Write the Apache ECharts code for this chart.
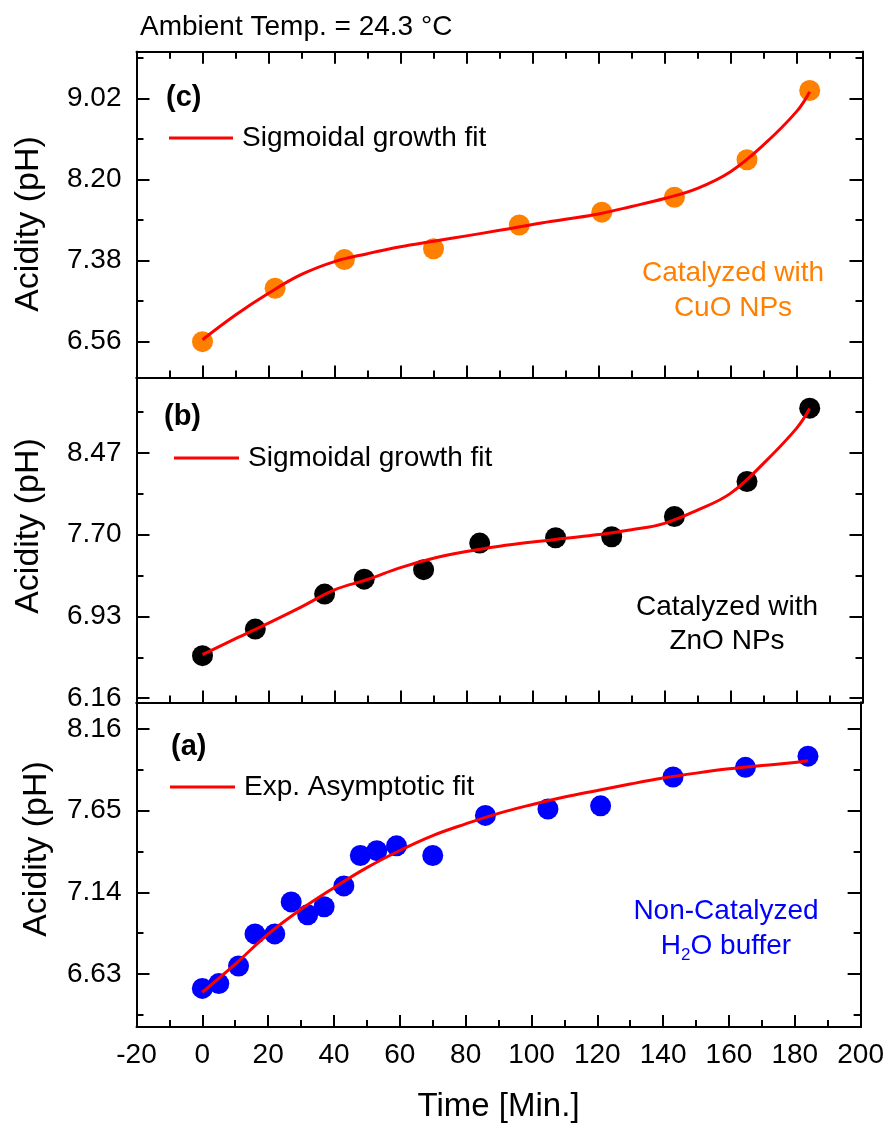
<!DOCTYPE html>
<html>
<head>
<meta charset="utf-8">
<title>Acidity vs time</title>
<script src="https://cdn.jsdelivr.net/npm/echarts@6/dist/echarts.min.js"></script>
<style>
  html, body { margin: 0; padding: 0; background: #fff; }
  #chart { width: 887px; height: 1124px; }
</style>
</head>
<body>
<div id="chart"></div>
<script>
  // panel (c) - CuO
  var timeC = [0, 22, 43, 70, 96, 121, 143, 165, 184];
  var phC = [6.56, 7.10, 7.39, 7.50, 7.74, 7.87, 8.02, 8.40, 9.10];

  // panel (b) - ZnO
  var timeB = [0, 16, 37, 49, 67, 84, 107, 124, 143, 165, 184];
  var phB = [6.56, 6.81, 7.14, 7.28, 7.37, 7.62, 7.67, 7.68, 7.87, 8.20, 8.89];

  // panel (a) - no catalyst
  var timeA = [0, 5, 11, 16, 22, 27, 32, 37, 43, 48, 53, 59, 70, 86, 105, 121, 143, 165, 184];
  var phA = [6.54, 6.57, 6.68, 6.88, 6.88, 7.08, 7.00, 7.05, 7.18, 7.37, 7.40, 7.43, 7.37, 7.62, 7.66, 7.68, 7.86, 7.92, 7.99];

  // fit curves, every 10 min
  var fitTime = [0, 10, 20, 30, 40, 50, 60, 70, 80, 90, 100, 110, 120, 130, 140, 150, 160, 170, 180, 184];
  var fitC = [6.58, 6.83, 7.05, 7.24, 7.37, 7.45, 7.52, 7.575, 7.63, 7.686, 7.745, 7.798, 7.852, 7.927, 8.008, 8.111, 8.279, 8.549, 8.886, 9.088];
  var fitB = [6.57, 6.72, 6.867, 7.02, 7.18, 7.277, 7.389, 7.477, 7.54, 7.59, 7.63, 7.665, 7.70, 7.745, 7.806, 7.931, 8.088, 8.37, 8.70, 8.887];
  var fitA = [6.516, 6.692, 6.879, 7.034, 7.169, 7.294, 7.401, 7.494, 7.567, 7.633, 7.687, 7.735, 7.776, 7.816, 7.853, 7.884, 7.911, 7.932, 7.95, 7.961];

  // tick labels
  var ticksC = [6.56, 7.38, 8.20, 9.02];
  var minorC = [6.97, 7.79, 8.61, 9.43];
  var ticksB = [6.16, 6.93, 7.70, 8.47];
  var minorB = [6.545, 7.315, 8.085, 8.855];
  var ticksA = [6.63, 7.14, 7.65, 8.16];
  var minorA = [6.375, 6.885, 7.395, 7.905];

  var FONT = 'Liberation Sans, Arial, sans-serif';

  function zip(xs, ys) {
    return xs.map(function (x, i) { return [x, ys[i]]; });
  }

  function xAx(g, pos, ticks, labels, name) {
    return {
      type: 'value', gridIndex: g, position: pos,
      min: -20, max: 200, interval: 20,
      name: name || '', nameLocation: 'middle', nameGap: 63,
      nameTextStyle: { fontSize: 33, color: '#000', fontFamily: FONT },
      axisLine: { show: true, onZero: false, lineStyle: { color: '#000', width: 2 } },
      axisTick: { show: ticks, inside: true, length: 12, lineStyle: { color: '#000', width: 2 } },
      minorTick: { show: ticks, splitNumber: 2, length: 7, lineStyle: { color: '#000', width: 2 } },
      axisLabel: { show: labels, fontSize: 28, color: '#000', fontFamily: FONT, margin: 14 },
      splitLine: { show: false }
    };
  }

  function yAx(g, pos, min, max, vals, len, labels) {
    return {
      type: 'value', gridIndex: g, position: pos, min: min, max: max,
      axisLine: { show: true, onZero: false, lineStyle: { color: '#000', width: 2 } },
      axisTick: { show: true, inside: true, length: len, customValues: vals,
        lineStyle: { color: '#000', width: 2 } },
      axisLabel: { show: labels, customValues: vals, fontSize: 28, color: '#000',
        fontFamily: FONT, margin: 15,
        formatter: function (v) { return v.toFixed(2); } },
      splitLine: { show: false }
    };
  }

  function yAxes(g, min, max, major, minor) {
    return [
      yAx(g, 'left', min, max, major, 13, true),
      yAx(g, 'left', min, max, minor, 7, false),
      yAx(g, 'right', min, max, major, 13, false),
      yAx(g, 'right', min, max, minor, 7, false)
    ];
  }

  function fitLine(name, xi, yi, ys) {
    return {
      name: name, type: 'line', xAxisIndex: xi, yAxisIndex: yi,
      smooth: 0.4, showSymbol: false,
      lineStyle: { color: '#FF0000', width: 3 }, itemStyle: { color: '#FF0000' },
      data: zip(fitTime, ys)
    };
  }

  var legendText = { fontSize: 28, color: '#000', fontFamily: FONT, padding: [0, 0, 0, 4] };

  var chart = echarts.init(document.getElementById('chart'));

  var option = {
    animation: false,
    backgroundColor: '#fff',
    textStyle: { fontFamily: FONT },
    grid: [
      { left: 136.5, right: 24.5, top: 51.7, height: 325.8 },
      { left: 136.5, right: 24.5, top: 377.5, height: 325 },
      { left: 136.5, right: 24.5, top: 702.5, height: 325.8 }
    ],
    xAxis: [
      xAx(0, 'bottom', true, false),
      xAx(0, 'top', true, false),
      xAx(1, 'bottom', true, false),
      xAx(1, 'top', false, false),
      xAx(2, 'bottom', true, true, 'Time [Min.]'),
      xAx(2, 'top', false, false)
    ],
    yAxis: [].concat(
      yAxes(0, 6.198, 9.492, ticksC, minorC),
      yAxes(1, 6.119, 9.179, ticksB, minorB),
      yAxes(2, 6.299, 8.325, ticksA, minorA)
    ),
    legend: [
      { data: ['Sigmoidal growth fit'], left: 169, top: 124, padding: 0,
        icon: 'rect', itemWidth: 64, itemHeight: 3, textStyle: legendText },
      { data: ['Sigmoidal growth fit'], left: 174, top: 444, padding: 0,
        icon: 'rect', itemWidth: 65, itemHeight: 3, textStyle: legendText },
      { data: ['Exp. Asymptotic fit'], left: 170, top: 773, padding: 0,
        icon: 'rect', itemWidth: 65, itemHeight: 3, textStyle: legendText }
    ],
    series: [
      { name: 'CuO NPs', type: 'scatter', xAxisIndex: 0, yAxisIndex: 0,
        symbolSize: 21, itemStyle: { color: '#FF8000', opacity: 1 }, data: zip(timeC, phC) },
      fitLine('Sigmoidal growth fit', 0, 0, fitC),
      { name: 'ZnO NPs', type: 'scatter', xAxisIndex: 2, yAxisIndex: 4,
        symbolSize: 21, itemStyle: { color: '#000', opacity: 1 }, data: zip(timeB, phB) },
      fitLine('Sigmoidal growth fit', 2, 4, fitB),
      { name: 'H2O buffer', type: 'scatter', xAxisIndex: 4, yAxisIndex: 8,
        symbolSize: 21, itemStyle: { color: '#0000FF', opacity: 1 }, data: zip(timeA, phA) },
      fitLine('Exp. Asymptotic fit', 4, 8, fitA)
    ],
    graphic: [
      { type: 'text', x: 140, y: 27, style: { text: 'Ambient Temp. = 24.3 °C', font: '28px ' + FONT,
        fill: '#000', align: 'left', verticalAlign: 'middle' } },
      { type: 'text', x: 166, y: 98, style: { text: '(c)', font: 'bold 29px ' + FONT,
        fill: '#000', align: 'left', verticalAlign: 'middle' } },
      { type: 'text', x: 164, y: 417, style: { text: '(b)', font: 'bold 29px ' + FONT,
        fill: '#000', align: 'left', verticalAlign: 'middle' } },
      { type: 'text', x: 171, y: 747, style: { text: '(a)', font: 'bold 29px ' + FONT,
        fill: '#000', align: 'left', verticalAlign: 'middle' } },
      { type: 'text', x: 733, y: 290.5, style: { text: 'Catalyzed with\nCuO NPs', font: '28px ' + FONT,
        lineHeight: 35, fill: '#FF8000', align: 'center', verticalAlign: 'middle' } },
      { type: 'text', x: 727, y: 624, style: { text: 'Catalyzed with\nZnO NPs', font: '28px ' + FONT,
        lineHeight: 34, fill: '#000', align: 'center', verticalAlign: 'middle' } },
      { type: 'text', x: 726, y: 929, style: { text: 'Non-Catalyzed\nH{sub|2}O buffer', font: '28px ' + FONT,
        lineHeight: 35, fill: '#0000FF', align: 'center', verticalAlign: 'middle',
        rich: { sub: { fontSize: 17, fontFamily: FONT, fill: '#0000FF', verticalAlign: 'bottom', lineHeight: 17 } } } },
      { type: 'text', x: 29, y: 224, rotation: Math.PI / 2, style: { text: 'Acidity (pH)', font: '34px ' + FONT,
        fill: '#000', align: 'center', verticalAlign: 'middle' } },
      { type: 'text', x: 29, y: 526, rotation: Math.PI / 2, style: { text: 'Acidity (pH)', font: '34px ' + FONT,
        fill: '#000', align: 'center', verticalAlign: 'middle' } },
      { type: 'text', x: 37, y: 849, rotation: Math.PI / 2, style: { text: 'Acidity (pH)', font: '34px ' + FONT,
        fill: '#000', align: 'center', verticalAlign: 'middle' } }
    ]
  };

  chart.setOption(option);
</script>
</body>
</html>
